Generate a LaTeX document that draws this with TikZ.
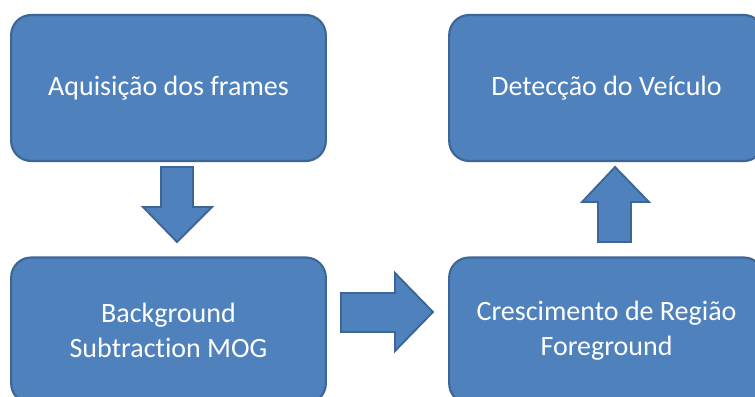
\documentclass[tikz,border=0pt]{standalone}
\usepackage{fontspec}
\setmainfont{Carlito}[Ligatures=NoCommon]
\begin{document}
\begin{tikzpicture}[x=0.75pt,y=-0.75pt,
  stagebox/.style={draw=boxedge, fill=boxfill, line width=1.6pt,
    rounded corners=15pt, minimum width=236pt, minimum height=109.5pt,
    inner sep=0pt, align=center, text=white,
    font=\fontsize{21}{26.25}\selectfont},
  blockarrow/.style={draw=boxedge, fill=boxfill, line width=1.4pt, line join=miter}]
\definecolor{boxfill}{HTML}{4F81BD}
\definecolor{boxedge}{HTML}{3C6698}
\useasboundingbox (0,0) rectangle (755,396);
\begin{scope}
\clip (0,0) rectangle (755,396);
% the four processing stages
\node[stagebox] (acq) at (168.5,88) {Aquisição dos frames};
\node[stagebox] (det) at (606.5,88) {Detecção do Veículo};
\node[stagebox] (bgs) at (168.5,330.5) {Background\\Subtraction MOG};
\node[stagebox] (crg) at (606.5,330.5) {Crescimento de Região\\Foreground};
\end{scope}
% acquisition -> background subtraction
\draw[blockarrow] (161,167) -- (193,167) -- (193,207) -- (212,207) -- (177,242)
  -- (143,207) -- (161,207) -- cycle;
% background subtraction -> region growing
\draw[blockarrow] (341,293) -- (395,293) -- (395,273) -- (433,312) -- (395,351)
  -- (395,332) -- (341,332) -- cycle;
% region growing -> vehicle detection
\draw[blockarrow] (598,242) -- (598,202) -- (582,202) -- (615,167) -- (649,202)
  -- (631,202) -- (631,242) -- cycle;
\end{tikzpicture}
\end{document}
